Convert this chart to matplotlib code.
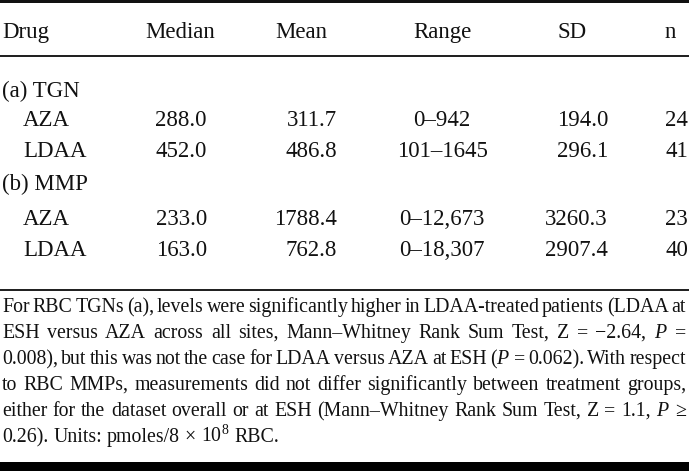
import matplotlib
matplotlib.use("Agg")
import matplotlib.pyplot as plt

plt.rcParams['font.family'] = ['Liberation Serif', 'DejaVu Serif']
plt.rcParams['mathtext.fontset'] = 'custom'
plt.rcParams['mathtext.rm'] = 'Liberation Serif'
plt.rcParams['mathtext.it'] = 'Liberation Serif:italic'

# table data
headers = ['Drug', 'Median', 'Mean', 'Range', 'SD', 'n']
groups = ['(a) TGN', '(b) MMP']
drugs = ['AZA', 'LDAA']
median = [[288.0, 452.0], [233.0, 163.0]]
mean = [[311.7, 486.8], [1788.4, 762.8]]
ranges = [['0\u2013942', '101\u20131645'], ['0\u201312,673', '0\u201318,307']]
sd = [[194.0, 296.1], [3260.3, 2907.4]]
n_pat = [[24, 41], [23, 40]]

# footnote, already broken into lines as in the source
note_lines = [
    "For RBC TGNs (a), levels were significantly higher in LDAA-treated patients (LDAA at",
    "ESH versus AZA across all sites, Mann\u2013Whitney Rank Sum Test, Z = \u22122.64, $P$ =",
    "0.008), but this was not the case for LDAA versus AZA at ESH ($P$ = 0.062). With respect",
    "to RBC MMPs, measurements did not differ significantly between treatment groups,",
    "either for the dataset overall or at ESH (Mann\u2013Whitney Rank Sum Test, Z = 1.1, $P$ \u2265",
    "0.26). Units: pmoles/8 \u00d7 10$^{8}$ RBC.",
]

W, H = 689, 471
fig = plt.figure(figsize=(W / 100, H / 100), dpi=100)
ax = fig.add_axes([0, 0, 1, 1])
ax.set_xlim(0, W)
ax.set_ylim(H, 0)
ax.axis('off')

fs = 16.5
fs_note = 14.3
ink = '#111111'

# rules
ax.axhspan(0, 2.5, color=ink, lw=0)
ax.axhspan(55, 57, color='#222222', lw=0)
ax.axhspan(289, 291, color='#222222', lw=0)
ax.axhspan(462, 471, color='black', lw=0)

# header row: (x, alignment)
head_pos = [(2, 'left'), (180, 'center'), (301, 'center'), (442, 'center'), (572, 'center'), (670, 'center')]
for h, (x, ha) in zip(headers, head_pos):
    ax.text(x, 38, h, fontsize=fs, ha=ha, va='baseline', color=ink)

group_y = [97, 190]
row_y = [[126, 157], [225, 256]]
for g in range(len(groups)):
    ax.text(2, group_y[g], groups[g], fontsize=fs, ha='left', va='baseline', color=ink)
    for i in range(len(drugs)):
        y = row_y[g][i]
        ax.text(23, y, drugs[i], fontsize=fs, ha='left', va='baseline', color=ink)
        ax.text(207, y, '%.1f' % median[g][i], fontsize=fs, ha='right', va='baseline', color=ink)
        ax.text(337, y, '%.1f' % mean[g][i], fontsize=fs, ha='right', va='baseline', color=ink)
        ax.text(442, y, ranges[g][i], fontsize=fs, ha='center', va='baseline', color=ink)
        ax.text(608, y, '%.1f' % sd[g][i], fontsize=fs, ha='right', va='baseline', color=ink)
        ax.text(665, y, str(n_pat[g][i]), fontsize=fs, ha='left', va='baseline', color=ink)

# justified footnote
renderer = fig.canvas.get_renderer()
x_left, x_right = 2, 686
base = 312
lead = 26
for k, line in enumerate(note_lines):
    words = line.split(' ')
    y = base + k * lead
    texts = []
    widths = []
    for w in words:
        t = ax.text(0, y, w, fontsize=fs_note, ha='left', va='baseline', color=ink)
        texts.append(t)
        widths.append(t.get_window_extent(renderer).width)
    if k < len(note_lines) - 1:
        gap = (x_right - x_left - sum(widths)) / (len(words) - 1)
    else:
        gap = fs_note * 100 / 72 * 0.25
    x = x_left
    for t, wd in zip(texts, widths):
        t.set_x(x)
        x += wd + gap

fig.savefig('out.png', dpi=100)
